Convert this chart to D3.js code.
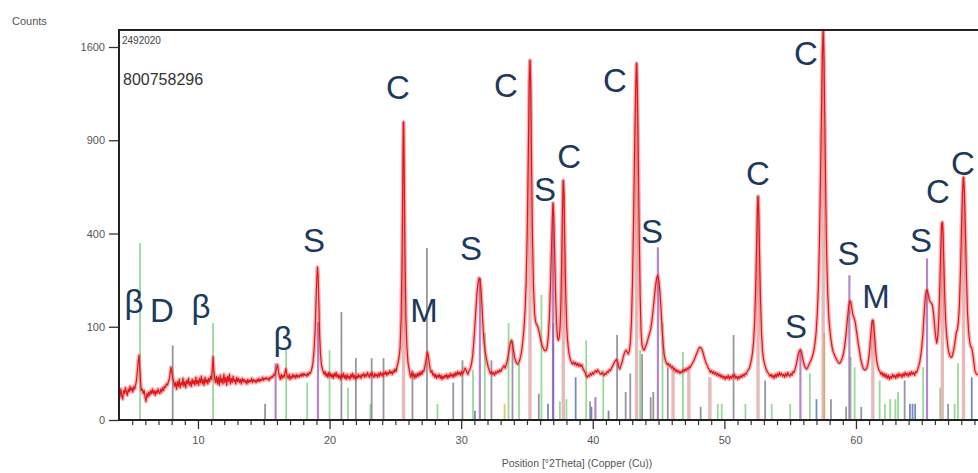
<!DOCTYPE html>
<html><head><meta charset="utf-8">
<script src="https://cdn.jsdelivr.net/npm/d3@7"></script>
<style>
html,body{margin:0;padding:0;background:#fff;overflow:hidden}
svg{display:block;font-family:"Liberation Sans",Arial,sans-serif}
</style></head><body>
<svg id="chart" width="978" height="473"></svg>
<script>
// ---------- DATA ----------
// observed pattern: [2Theta, counts]
const observed = [
[4.00,9],[4.07,6],[4.14,11],[4.21,7],[4.28,5],[4.35,10],[4.42,8],[4.49,12],[4.56,9],[4.63,7],[4.70,11],[4.77,9],[4.84,13],[4.91,10],[4.98,12],[5.05,9],[5.12,13],[5.19,11],[5.26,14],[5.33,18],[5.40,28],[5.46,40],[5.52,48],[5.58,30],[5.64,17],
[5.70,10],[5.77,11],[5.84,8],[5.91,10],[5.98,6],[6.05,4],[6.12,8],[6.19,6],[6.26,9],[6.33,7],[6.40,10],[6.47,8],[6.54,11],[6.61,8],[6.68,10],[6.75,7],[6.82,10],[6.89,8],[6.96,11],[7.03,9],[7.10,8],[7.17,11],[7.24,9],[7.31,12],[7.38,10],[7.45,13],[7.52,12],[7.60,15],[7.68,14],[7.76,17],[7.84,20],[7.90,27],[7.95,32],[8.02,26],[8.09,20],[8.16,17],
[8.23,13],[8.30,16],[8.37,11],[8.44,17],[8.51,13],[8.58,19],[8.65,12],[8.72,16],[8.79,14],[8.86,20],[8.93,13],[9.00,17],[9.07,12],[9.14,18],[9.21,15],[9.28,20],[9.35,14],[9.42,17],[9.49,13],[9.56,19],[9.63,15],[9.70,18],[9.77,14],[9.84,21],[9.91,15],[9.98,18],[10.05,14],[10.12,20],[10.19,16],[10.26,22],[10.33,15],[10.40,19],[10.47,14],[10.54,21],[10.61,16],[10.68,19],[10.75,15],[10.82,20],[10.89,17],[10.96,22],[11.03,19],[11.09,30],[11.15,46],[11.21,28],[11.27,20],
[11.34,16],[11.41,22],[11.48,15],[11.55,21],[11.62,14],[11.69,23],[11.76,16],[11.83,20],[11.90,15],[11.97,24],[12.04,16],[12.11,21],[12.18,14],[12.25,22],[12.32,17],[12.39,24],[12.46,15],[12.53,20],[12.60,16],[12.67,22],[12.74,17],[12.81,19],[12.88,15],[12.95,21],[13.02,17],[13.09,20],[13.16,16],[13.23,19],[13.30,15],[13.37,20],[13.44,17],[13.51,19],[13.58,16],[13.65,18],[13.72,15],[13.79,19],[13.86,16],[13.93,18],[14.00,17],[14.07,20],[14.14,16],[14.21,19],[14.28,17],[14.35,18],[14.42,16],[14.49,19],[14.56,17],[14.63,20],[14.70,17],[14.77,19],[14.84,18],[14.91,21],[14.98,18],[15.05,20],[15.12,19],[15.19,21],[15.26,19],[15.33,20],[15.40,18],[15.47,21],[15.54,20],[15.61,22],[15.68,21],[15.75,24],[15.82,23],[15.90,27],
[15.98,31],[16.05,35],[16.12,27],[16.19,22],[16.26,19],[16.33,24],[16.40,20],[16.47,23],[16.54,21],[16.60,25],[16.67,30],[16.72,27],[16.79,22],[16.86,20],[16.93,24],[17.00,19],[17.07,22],[17.14,20],[17.21,24],[17.28,21],[17.35,23],[17.42,20],[17.49,24],[17.56,21],[17.63,23],[17.70,21],[17.77,24],[17.84,22],[17.91,25],[17.98,22],[18.05,25],[18.12,23],[18.19,24],[18.26,22],[18.33,25],[18.40,23],[18.47,26],[18.54,25],[18.61,28],[18.68,32],[18.75,40],[18.82,55],[18.90,90],[18.97,160],[19.03,230],[19.08,269],[19.13,240],[19.19,150],[19.25,80],[19.31,50],[19.38,36],[19.45,30],[19.52,27],
[19.59,24],[19.66,27],[19.73,22],[19.80,25],[19.87,21],[19.94,26],[20.01,22],[20.08,25],[20.15,21],[20.22,24],[20.29,20],[20.36,25],[20.43,22],[20.50,26],[20.57,21],[20.64,24],[20.71,20],[20.78,23],[20.85,19],[20.92,24],[20.99,21],[21.06,25],[21.13,20],[21.20,23],[21.27,19],[21.34,24],[21.41,20],[21.48,22],[21.55,19],[21.62,24],[21.69,21],[21.76,25],[21.83,20],[21.90,23],[21.97,19],[22.04,22],[22.11,20],[22.18,24],[22.25,21],[22.32,23],[22.39,20],[22.46,24],[22.53,22],[22.60,25],[22.67,21],[22.74,24],[22.81,22],[22.88,26],[22.95,23],[23.02,21],[23.09,25],[23.16,22],[23.23,26],[23.30,23],[23.37,21],[23.44,25],[23.51,22],[23.58,24],[23.65,21],[23.72,25],[23.79,22],[23.86,26],[23.93,23],[24.00,25],[24.07,22],[24.14,26],[24.21,24],[24.28,27],[24.35,23],[24.42,26],[24.49,24],[24.56,28],[24.63,25],[24.70,27],[24.77,24],[24.84,28],[24.91,26],[24.98,30],[25.05,27],[25.12,32],[25.20,38],[25.28,45],[25.36,60],[25.44,120],[25.51,300],[25.57,700],[25.62,1022],[25.67,720],[25.73,320],[25.80,120],[25.88,60],[25.96,38],[26.04,30],
[26.11,24],[26.18,21],[26.25,26],[26.32,22],[26.39,25],[26.46,20],[26.53,24],[26.60,21],[26.67,25],[26.74,22],[26.81,26],[26.88,23],[26.95,27],[27.02,24],[27.09,28],[27.16,27],[27.23,32],[27.30,38],[27.37,46],[27.44,53],[27.50,48],[27.57,38],[27.64,30],[27.71,26],[27.78,28],[27.85,23],[27.92,25],[27.99,21],[28.06,24],[28.13,20],[28.20,23],[28.27,21],[28.34,24],[28.41,20],[28.48,23],[28.55,19],[28.62,22],[28.69,20],[28.76,23],[28.83,21],[28.90,24],[28.97,20],[29.04,23],[29.11,21],[29.18,25],[29.25,22],[29.32,24],[29.39,21],[29.46,25],[29.53,22],[29.60,26],[29.67,23],[29.74,27],[29.81,24],[29.88,26],[29.95,23],[30.02,27],[30.09,24],[30.16,26],[30.23,28],[30.30,31],[30.37,29],[30.44,26],[30.51,24],[30.58,27],[30.65,29],[30.72,32],[30.80,38],[30.88,48],[30.96,70],[31.04,100],[31.12,140],[31.20,185],[31.28,215],[31.36,232],[31.43,228],[31.50,200],[31.58,150],[31.66,100],[31.74,70],[31.82,55],[31.90,45],[31.98,38],[32.06,32],[32.14,28],[32.22,25],[32.30,27],[32.38,24],[32.46,26],[32.54,23],[32.62,27],[32.70,25],[32.78,28],[32.86,26],[32.94,29],[33.02,27],[33.10,30],[33.18,32],[33.26,34],[33.34,31],[33.42,35],[33.50,40],[33.58,48],[33.66,58],[33.74,68],[33.82,73],[33.90,66],[33.98,55],[34.06,45],[34.14,40],[34.22,37],[34.30,36],[34.38,38],[34.46,42],[34.54,48],[34.62,58],[34.70,75],[34.78,100],[34.86,140],[34.94,220],[35.02,400],[35.10,800],[35.17,1300],[35.23,1489],[35.29,1250],[35.35,750],[35.42,380],[35.50,200],[35.58,130],[35.66,110],
[35.74,105],[35.82,100],[35.90,92],[35.98,82],[36.06,72],[36.14,64],[36.22,60],[36.30,57],[36.38,55],[36.46,56],[36.54,62],[36.62,80],[36.70,120],[36.78,200],[36.86,330],[36.93,470],[36.98,541],[37.04,480],[37.10,330],[37.17,190],[37.24,110],[37.31,80],[37.38,73],[37.45,78],[37.52,100],[37.58,160],[37.64,300],[37.70,500],[37.76,661],[37.82,580],[37.88,350],[37.95,180],[38.02,100],[38.08,75],[38.15,58],[38.22,48],[38.30,42],[38.38,38],[38.46,36],[38.54,39],[38.62,35],[38.70,38],[38.78,34],[38.86,37],[38.94,33],[39.02,36],[39.10,33],[39.18,35],[39.26,30],[39.34,28],[39.42,26],[39.50,23],[39.58,21],[39.66,23],[39.74,22],[39.82,25],[39.90,23],[39.98,26],[40.06,24],[40.14,27],[40.22,28],[40.30,26],[40.38,29],[40.46,27],[40.54,25],[40.62,24],[40.70,26],[40.78,24],[40.86,23],[40.94,25],[41.02,24],[41.10,27],[41.18,26],[41.26,29],[41.34,28],[41.42,31],[41.50,33],[41.58,36],[41.66,39],[41.74,41],[41.82,42],[41.90,38],[41.98,32],[42.06,30],[42.14,34],[42.22,38],[42.30,44],[42.38,50],[42.46,54],[42.54,56],[42.62,53],[42.70,50],[42.78,55],[42.86,70],[42.94,110],[43.02,220],[43.10,450],[43.18,850],[43.26,1250],[43.33,1464],[43.39,1250],[43.46,800],[43.53,400],[43.60,180],[43.67,90],[43.74,65],[43.82,58],[43.90,56],[43.98,60],[44.06,65],[44.14,70],[44.22,78],[44.30,85],[44.38,92],[44.46,105],[44.54,125],[44.62,150],[44.70,180],[44.78,210],[44.86,232],[44.94,240],[45.02,225],[45.10,190],[45.18,145],[45.26,100],[45.34,70],[45.42,50],[45.50,42],[45.58,38],[45.66,35],[45.74,37],[45.82,33],[45.90,35],[45.98,31],[46.06,33],[46.14,29],[46.22,31],[46.30,27],[46.38,29],[46.46,26],[46.54,28],[46.62,25],[46.70,27],[46.78,26],[46.86,29],[46.94,27],[47.02,30],[47.10,28],[47.18,31],[47.26,30],[47.34,33],[47.42,32],[47.50,35],[47.58,37],[47.66,40],[47.74,43],[47.82,47],[47.90,51],[47.98,55],[48.06,59],[48.14,61],[48.22,60],[48.30,57],[48.38,52],[48.46,46],[48.54,41],[48.62,37],[48.70,34],[48.78,31],[48.86,29],[48.94,26],[49.02,28],[49.10,25],[49.18,27],[49.26,24],[49.34,26],[49.42,23],[49.50,25],[49.58,22],[49.66,24],[49.74,21],[49.82,23],[49.90,20],[49.98,22],[50.06,19],[50.14,22],[50.22,20],[50.30,23],[50.38,19],[50.46,22],[50.54,20],[50.62,23],[50.70,21],[50.78,24],[50.86,20],[50.94,22],[51.02,19],[51.10,22],[51.18,20],[51.26,23],[51.34,21],[51.42,24],[51.50,22],[51.58,25],[51.66,24],[51.74,27],[51.82,29],[51.90,31],[51.98,36],[52.06,42],[52.14,52],[52.22,70],[52.30,110],[52.38,200],[52.45,350],[52.51,500],[52.56,576],[52.62,480],[52.68,300],[52.75,160],[52.82,90],[52.90,55],[52.98,42],[53.06,36],[53.14,31],[53.22,28],[53.30,26],[53.38,24],[53.46,22],[53.54,24],[53.62,21],[53.70,23],[53.78,20],[53.86,24],[53.94,21],[54.02,25],[54.10,22],[54.18,26],[54.26,23],[54.34,25],[54.42,22],[54.50,24],[54.58,21],[54.66,25],[54.74,22],[54.82,26],[54.90,23],[54.98,22],[55.06,25],[55.14,23],[55.22,27],[55.30,26],[55.38,30],[55.46,35],[55.54,42],[55.62,50],[55.70,55],[55.78,57],[55.86,53],[55.94,45],[56.02,38],[56.10,33],[56.18,31],[56.26,30],[56.34,32],[56.42,35],[56.50,38],[56.58,41],[56.66,45],[56.74,50],[56.82,58],[56.90,70],[56.98,90],[57.06,130],[57.14,200],[57.22,350],[57.30,650],[57.38,1100],[57.45,1550],[57.51,1740],[57.57,1500],[57.64,1000],[57.71,550],[57.78,300],[57.86,180],[57.94,120],[58.02,93],[58.10,75],[58.18,62],[58.26,54],[58.34,50],[58.42,46],[58.50,43],[58.58,40],[58.66,38],[58.74,37],[58.82,38],[58.90,41],[58.98,45],[59.06,52],[59.14,62],[59.22,78],[59.30,100],[59.38,125],[59.46,150],[59.54,163],[59.62,160],[59.70,140],[59.78,125],[59.86,120],[59.94,110],[60.02,95],[60.10,80],[60.18,66],[60.26,56],[60.34,45],[60.42,38],[60.50,33],[60.58,30],[60.66,29],[60.74,29],[60.82,31],[60.90,36],[60.98,45],[61.06,62],[61.14,88],[61.22,110],[61.28,115],[61.34,105],[61.42,80],[61.50,55],[61.58,40],[61.66,33],[61.74,29],[61.82,27],[61.90,24],[61.98,26],[62.06,22],[62.14,25],[62.22,21],[62.30,24],[62.38,20],[62.46,23],[62.54,19],[62.62,22],[62.70,20],[62.78,24],[62.86,21],[62.94,23],[63.02,20],[63.10,24],[63.18,21],[63.26,25],[63.34,22],[63.42,24],[63.50,21],[63.58,25],[63.66,22],[63.74,26],[63.82,23],[63.90,25],[63.98,22],[64.06,26],[64.14,23],[64.22,27],[64.30,24],[64.38,26],[64.46,23],[64.54,27],[64.62,26],[64.70,30],[64.78,34],[64.86,40],[64.94,50],[65.02,65],[65.10,90],[65.18,130],[65.26,170],[65.34,192],[65.42,194],[65.50,180],[65.58,165],[65.66,160],[65.74,157],[65.82,150],[65.90,130],[65.98,100],[66.06,80],[66.14,68],[66.22,80],[66.30,120],[66.38,220],[66.45,350],[66.51,440],[66.56,450],[66.62,400],[66.68,280],[66.75,170],[66.82,110],[66.90,80],[66.98,62],[67.06,52],[67.14,47],[67.22,45],[67.30,46],[67.38,52],[67.46,60],[67.54,72],[67.62,88],[67.70,93],[67.78,110],[67.86,150],[67.94,250],[68.02,420],[68.10,600],[68.17,678],[68.24,600],[68.32,400],[68.40,230],[68.48,130],[68.56,90],[68.64,70],[68.72,62],[68.80,60],[68.88,50],[68.96,38],[69.04,28],[69.12,25],[69.20,24],[69.30,23]
];

// reference stick patterns: [2Theta, counts]
const sticksC = [[25.62,1022],[35.23,1489],[37.76,661],[43.33,1464],[46.1,29],[47.3,32],[48.9,21],[52.56,576],[57.51,1740],[61.28,115],[66.56,450],[68.17,678]];
const sticksS = [[15.9,37],[19.12,110],[31.42,232],[36.98,541],[40.2,6],[44.95,343],[55.78,56],[59.5,241],[65.4,300]];
const sticksGray = [[8.08,64],[15.1,3],[20.9,134],[22.0,44],[23.2,44],[24.1,44],[26.3,29],[27.4,340],[29.4,16],[30.1,41],[32.3,41],[33.9,73],[35.9,8],[39.8,4],[41.85,83],[42.5,9],[42.85,25],[43.75,50],[44.4,6],[44.6,9],[45.7,32],[48.2,2],[50.7,83],[53.1,18],[58.1,5],[59.25,2],[60.4,2],[63.7,18],[67.0,3]];
const sticksGreen = [[5.6,360],[11.15,108],[16.7,56],[18.3,16],[20.0,56],[21.4,12],[23.1,3],[28.2,3],[30.9,29],[31.8,87],[33.6,108],[34.4,36],[36.1,180],[37.5,4],[38.0,5],[39.5,73],[40.8,29],[43.6,56],[45.3,108],[46.85,53],[49.5,3],[49.8,3],[51.6,3],[53.6,3],[55.0,3],[56.5,25],[59.6,46],[59.9,32],[61.8,18],[62.2,3],[62.6,5],[63.0,5],[63.2,9],[65.1,32],[66.4,12],[67.5,3],[67.75,37]];
const sticksBlue = [[31.05,1],[36.6,3],[37.0,108],[38.7,21],[39.9,2],[41.2,1],[57.0,5],[64.1,3],[64.3,3],[64.5,3],[68.8,21]];
const sticksYellow = [[33.3,3],[57.6,87]];

// phase labels: [text, 2Theta, counts] (anchor = baseline centre)
const peakLabels = [
["β",5.14,131],["D",7.27,110],["β",10.23,119],["β",16.46,56],["S",18.82,324],
["C",25.2,1184],["M",27.18,110],["S",30.75,294],["C",33.41,1198],["S",36.37,551],
["C",38.2,729],["C",41.69,1236],["S",44.5,360],["C",52.55,634],["S",55.44,77],
["C",56.2,1448],["S",59.44,276],["M",61.52,144],["S",64.94,324],["C",66.23,541],["C",68.13,690]
];

const yTicks = [0,100,400,900,1600];
const xTicks = [10,20,30,40,50,60];
const xMinorTicks = d3.range(5,70).filter(v => v % 10 !== 0);
const yTitle = "Counts";
const xTitle = "Position [°2Theta] (Copper (Cu))";
const sampleId = "2492020";
const sampleName = "800758296";

// ---------- CHART ----------
const svg = d3.select("#chart");
const plot = {left:119, top:30, bottom:420, right:978};
const x = d3.scaleLinear().domain([4,70]).range([119, 119 + 66*13.16]);
const y = d3.scaleSqrt().domain([0,1600]).range([420,47]);

svg.append("defs").append("clipPath").attr("id","clip")
  .append("rect").attr("x",plot.left).attr("y",plot.top)
  .attr("width",plot.right-plot.left).attr("height",plot.bottom-plot.top);

const g = svg.append("g").attr("clip-path","url(#clip)");

function drawSticks(data, color, width, opacity){
  g.append("g").selectAll("line").data(data).join("line")
    .attr("x1",d=>x(d[0])).attr("x2",d=>x(d[0]))
    .attr("y1",y(0)).attr("y2",d=>y(d[1]))
    .attr("stroke",color).attr("stroke-width",width).attr("stroke-opacity",opacity);
}
drawSticks(sticksGreen,"#7fcf7f",1.8,0.8);
drawSticks(sticksGray,"#86828f",1.8,0.85);
drawSticks(sticksBlue,"#4f6fae",1.8,0.8);
drawSticks(sticksYellow,"#c9c24a",1.8,0.8);
drawSticks(sticksS,"#9a5fb5",2.2,0.75);
drawSticks(sticksC,"#d98a8a",3.4,0.6);

const line = d3.line().x(d=>x(d[0])).y(d=>y(d[1]));
g.append("path").datum(observed).attr("d",line)
  .attr("fill","none").attr("stroke","#e04848").attr("stroke-opacity",0.4)
  .attr("stroke-width",4).attr("stroke-linejoin","round");
g.append("path").datum(observed).attr("d",line)
  .attr("fill","none").attr("stroke","#e0161c")
  .attr("stroke-width",1.2).attr("stroke-linejoin","round");

// axes
const gY = svg.append("g").attr("transform",`translate(${plot.left},0)`)
  .call(d3.axisLeft(y).tickValues(yTicks).tickFormat(d3.format("d")).tickSize(10).tickSizeOuter(0).tickPadding(4));
gY.select(".domain").remove();
gY.selectAll(".tick line").attr("stroke","#333").attr("stroke-width",1.3);
gY.selectAll(".tick text").attr("fill","#555").style("font-size","11px")
  .style("font-family",'"Liberation Sans",Arial,sans-serif');

const gXm = svg.append("g").attr("transform",`translate(0,${plot.bottom})`)
  .call(d3.axisBottom(x).tickValues(xMinorTicks).tickSize(5).tickSizeOuter(0).tickFormat(""));
gXm.select(".domain").remove();
gXm.selectAll(".tick line").attr("stroke","#333").attr("stroke-width",1.2);

const gX = svg.append("g").attr("transform",`translate(0,${plot.bottom})`)
  .call(d3.axisBottom(x).tickValues(xTicks).tickSize(9).tickSizeOuter(0).tickPadding(7));
gX.select(".domain").remove();
gX.selectAll(".tick line").attr("stroke","#333").attr("stroke-width",1.3);
gX.selectAll(".tick text").attr("fill","#555").style("font-size","11px")
  .style("font-family",'"Liberation Sans",Arial,sans-serif');

// frame
const frame = svg.append("g").attr("stroke","#222").attr("stroke-width",2).attr("fill","none");
frame.append("line").attr("x1",plot.left).attr("x2",plot.right+2).attr("y1",plot.top).attr("y2",plot.top);
frame.append("line").attr("x1",plot.left).attr("x2",plot.left).attr("y1",plot.top-1).attr("y2",plot.bottom+1);
frame.append("line").attr("x1",plot.left-1).attr("x2",plot.right+2).attr("y1",plot.bottom).attr("y2",plot.bottom);

// titles
svg.append("text").attr("x",12).attr("y",25).text(yTitle)
  .attr("fill","#555").style("font-size","11px");
svg.append("text").attr("x",577).attr("y",467).attr("text-anchor","middle").text(xTitle)
  .attr("fill","#555").style("font-size","10.5px");
svg.append("text").attr("x",122).attr("y",44).text(sampleId)
  .attr("fill","#444").style("font-size","10px");
svg.append("text").attr("x",123).attr("y",85).text(sampleName)
  .attr("fill","#333").style("font-size","16px");

// phase labels
svg.append("g").selectAll("text").data(peakLabels).join("text")
  .attr("x",d=>x(d[1])).attr("y",d=>y(d[2]))
  .attr("text-anchor","middle")
  .attr("fill","#1d3a5c").style("font-size","33px")
  .text(d=>d[0]);
</script>
</body></html>
